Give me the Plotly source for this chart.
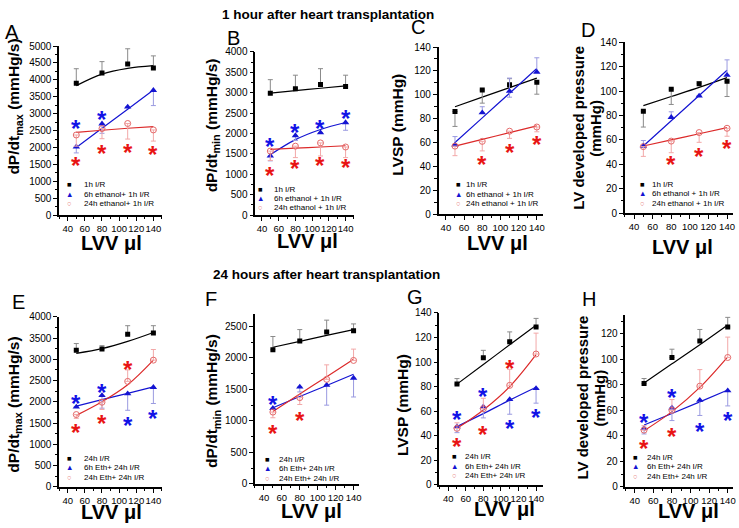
import plotly.graph_objects as go

W, H = 739, 528
FONT = "Liberation Sans, Arial, Helvetica, sans-serif"

lvv = [50, 80, 110, 140]

# ---------------- Panel A : dP/dt max, 1 h ----------------
A_ctrl = [3900, 4200, 4470, 4350]
A_ctrl_up = [430, 340, 450, 360]
A_ctrl_dn = [0, 0, 0, 0]
A_ctrl_fit = [3830, 4170, 4340, 4420]
A_6h = [2020, 2700, 3200, 3690]
A_6h_up = [0, 0, 0, 0]
A_6h_dn = [180, 280, 0, 450]
A_6h_fit = [2000, 2570, 3130, 3700]
A_24h = [2370, 2560, 2710, 2520]
A_24h_up = [0, 0, 0, 0]
A_24h_dn = [330, 300, 460, 330]
A_24h_fit = [2450, 2510, 2570, 2620]
A_star6_x = [50, 80]
A_star6_y = [2740, 3020]
A_star24_x = [50, 80, 110, 140]
A_star24_y = [1660, 1990, 2020, 1970]

# ---------------- Panel B : dP/dt min, 1 h ----------------
B_ctrl = [2990, 3100, 3200, 3150]
B_ctrl_up = [330, 330, 390, 280]
B_ctrl_dn = [0, 0, 0, 0]
B_ctrl_fit = [2990, 3050, 3110, 3170]
B_6h = [1450, 1950, 2020, 2270]
B_6h_up = [0, 0, 0, 0]
B_6h_dn = [120, 120, 0, 190]
B_6h_fit = [1480, 1850, 2100, 2270]
B_24h = [1570, 1690, 1770, 1670]
B_24h_up = [0, 0, 0, 0]
B_24h_dn = [230, 280, 320, 260]
B_24h_fit = [1610, 1640, 1670, 1700]
B_star6_x = [50, 80, 110, 140]
B_star6_y = [1840, 2170, 2280, 2510]
B_star24_x = [50, 80, 110, 140]
B_star24_y = [1130, 1280, 1360, 1310]

# ---------------- Panel C : LVSP, 1 h ----------------
C_ctrl = [86, 104, 108.5, 110.5]
C_ctrl_up = [0, 0, 5, 0]
C_ctrl_dn = [12.5, 11, 0, 10]
C_ctrl_fit = [90, 98, 106, 114]
C_6h = [58, 85, 103, 119]
C_6h_up = [7, 5, 11, 12]
C_6h_dn = [0, 0, 5, 0]
C_6h_fit = [60, 80.7, 101.3, 122]
C_24h = [57, 61, 69.5, 73]
C_24h_up = [0, 0, 0, 0]
C_24h_dn = [8, 8, 6, 4]
C_24h_fit = [57, 62.7, 68.3, 74]
C_star6_x = []
C_star6_y = []
C_star24_x = [80, 110, 140]
C_star24_y = [47, 56.5, 63]

# ---------------- Panel D : LV developed pressure, 1 h ----------------
D_ctrl = [83.5, 101.5, 106, 108]
D_ctrl_up = [0, 0, 1.5, 0]
D_ctrl_dn = [13, 12.5, 0, 12.5]
D_ctrl_fit = [88, 95.5, 103, 111]
D_6h = [55, 78.5, 96, 113]
D_6h_up = [4.5, 4.5, 0, 12.5]
D_6h_dn = [0, 0, 0, 0]
D_6h_fit = [55, 75.7, 96.3, 117]
D_24h = [54.5, 59, 66, 69.5]
D_24h_up = [0, 0, 0, 0]
D_24h_dn = [8, 9.5, 8, 6.5]
D_24h_fit = [55, 60, 65, 70]
D_star6_x = []
D_star6_y = []
D_star24_x = [80, 110, 140]
D_star24_y = [45, 51, 58]

# ---------------- Panel E : dP/dt max, 24 h ----------------
E_ctrl = [3210, 3240, 3590, 3620]
E_ctrl_up = [160, 80, 200, 170]
E_ctrl_dn = [0, 0, 0, 0]
E_ctrl_fit = [3140, 3250, 3420, 3630]
E_6h = [1880, 2150, 2190, 2340]
E_6h_up = [0, 0, 0, 0]
E_6h_dn = [0, 300, 390, 380]
E_6h_fit = [1900, 2050, 2200, 2350]
E_24h = [1700, 1990, 2480, 2980]
E_24h_up = [0, 0, 270, 250]
E_24h_dn = [90, 170, 0, 0]
E_24h_fit = [1680, 2000, 2400, 2980]
E_star6_x = [50, 80, 110, 140]
E_star6_y = [2100, 2370, 1590, 1760]
E_star24_x = [50, 80, 110]
E_star24_y = [1410, 1620, 2900]

# ---------------- Panel F : dP/dt min, 24 h ----------------
F_ctrl = [2130, 2270, 2410, 2430]
F_ctrl_up = [210, 180, 190, 110]
F_ctrl_dn = [0, 0, 0, 0]
F_ctrl_fit = [2170, 2263, 2357, 2450]
F_6h = [1200, 1540, 1570, 1680]
F_6h_up = [0, 0, 0, 0]
F_6h_dn = [0, 80, 320, 300]
F_6h_fit = [1210, 1387, 1563, 1740]
F_24h = [1140, 1370, 1660, 1960]
F_24h_up = [0, 0, 230, 180]
F_24h_dn = [90, 110, 0, 0]
F_24h_fit = [1150, 1427, 1703, 1980]
F_star6_x = [50]
F_star6_y = [1350]
F_star24_x = [50, 80]
F_star24_y = [890, 1100]

# ---------------- Panel G : LVSP, 24 h ----------------
G_ctrl = [82, 103.5, 116.5, 128.5]
G_ctrl_up = [4.5, 6, 8, 7]
G_ctrl_dn = [0, 0, 0, 0]
G_ctrl_fit = [82, 98, 114, 130]
G_6h = [47.5, 63.5, 69.5, 78.5]
G_6h_up = [0, 0, 0, 0]
G_6h_dn = [5, 9, 12, 12]
G_6h_fit = [47.5, 58, 69, 79.5]
G_24h = [46, 62, 81, 106.5]
G_24h_up = [4.5, 8.5, 13, 17]
G_24h_dn = [0, 0, 0, 0]
G_24h_fit = [46, 61, 80, 106]
G_star6_x = [50, 80, 110, 140]
G_star6_y = [58, 76.5, 50.5, 60]
G_star24_x = [50, 80, 110]
G_star24_y = [36, 45.5, 99.5]

# ---------------- Panel H : LV developed pressure, 24 h ----------------
H_ctrl = [81, 101.5, 114.5, 125.5]
H_ctrl_up = [4, 6.5, 9, 7.5]
H_ctrl_dn = [0, 0, 0, 0]
H_ctrl_fit = [81.5, 96.5, 111.5, 127]
H_6h = [46, 62, 68, 75.5]
H_6h_up = [0, 0, 0, 0]
H_6h_dn = [4.5, 10, 12, 12]
H_6h_fit = [48.5, 57.5, 66.7, 76]
H_24h = [44.5, 60, 79, 101.5]
H_24h_up = [3.5, 8.5, 13, 16]
H_24h_dn = [0, 0, 0, 0]
H_24h_fit = [44, 59, 78, 102]
H_star6_x = [50, 80, 110, 140]
H_star6_y = [55.5, 74.5, 48.5, 56.5]
H_star24_x = [50, 80]
H_star24_y = [35, 44.5]

legend_A = ["1h I/R", "6h ethanol+ 1h I/R", "24h ethanol+ 1h I/R"]
legend_BCD = ["1h I/R", "6h ethanol + 1h I/R", "24h ethanol + 1h I/R"]
legend_EFGH = ["24h I/R", "6h Eth+ 24h I/R", "24h Eth+ 24h I/R"]

ylab_max = "dP/dt<sub>max</sub> (mmHg/s)"
ylab_min = "dP/dt<sub>min</sub> (mmHg/s)"
ylab_lvsp = "LVSP (mmHg)"
ylab_lvdp = ["LV developed pressure", "(mmHg)"]

BLACK = "#000000"
BLUE = "#1414d2"
RED = "#dc2a2a"
RED_MK = "#e46a6a"
ERR_K = "#8a8a8a"
ERR_B = "#9a9ae0"
ERR_R = "#f2a8a8"
STAR_B = "#1212e6"
STAR_R = "#e81414"

# layout (pixel geometry)
panels = [
    dict(k="A", d=(A_ctrl, A_ctrl_up, A_ctrl_dn, A_ctrl_fit, A_6h, A_6h_up, A_6h_dn, A_6h_fit,
                   A_24h, A_24h_up, A_24h_dn, A_24h_fit),
         s=(A_star6_x, A_star6_y, A_star24_x, A_star24_y),
         xr=[30, 150], xpx=(59.4, 162.6), yr=[0, 5000], ypx=(41, 214), dt=500, mdt=250,
         leg=legend_A, legpos=(70, 82, [183, 192.5, 202]),
         ylab=ylab_max, ylpos=(15, 103), xlpos=(112, 243), letter=(12, 27)),
    dict(k="B", d=(B_ctrl, B_ctrl_up, B_ctrl_dn, B_ctrl_fit, B_6h, B_6h_up, B_6h_dn, B_6h_fit,
                   B_24h, B_24h_up, B_24h_dn, B_24h_fit),
         s=(B_star6_x, B_star6_y, B_star24_x, B_star24_y),
         xr=[32, 150], xpx=(256.3, 355.4), yr=[0, 4000], ypx=(47, 214), dt=500, mdt=250,
         leg=legend_BCD, legpos=(262, 273, [188, 197, 206]),
         ylab=ylab_min, ylpos=(213, 122), xlpos=(309, 240), letter=(234, 33)),
    dict(k="C", d=(C_ctrl, C_ctrl_up, C_ctrl_dn, C_ctrl_fit, C_6h, C_6h_up, C_6h_dn, C_6h_fit,
                   C_24h, C_24h_up, C_24h_dn, C_24h_fit),
         s=(C_star6_x, C_star6_y, C_star24_x, C_star24_y),
         xr=[32, 147], xpx=(440.4, 545.4), yr=[0, 140], ypx=(42, 213), dt=20, mdt=10,
         leg=legend_BCD, legpos=(460, 466, [183, 193, 202]),
         ylab=ylab_lvsp, ylpos=(399, 121), xlpos=(500, 243), letter=(420, 22)),
    dict(k="D", d=(D_ctrl, D_ctrl_up, D_ctrl_dn, D_ctrl_fit, D_6h, D_6h_up, D_6h_dn, D_6h_fit,
                   D_24h, D_24h_up, D_24h_dn, D_24h_fit),
         s=(D_star6_x, D_star6_y, D_star24_x, D_star24_y),
         xr=[30, 146], xpx=(627.3, 735.6), yr=[0, 140], ypx=(37, 212), dt=20, mdt=10,
         leg=legend_BCD, legpos=(645, 653, [183, 192, 202]),
         ylab=ylab_lvdp, ylpos=((581, 598), 125), xlpos=(685, 247), letter=(590, 25)),
    dict(k="E", d=(E_ctrl, E_ctrl_up, E_ctrl_dn, E_ctrl_fit, E_6h, E_6h_up, E_6h_dn, E_6h_fit,
                   E_24h, E_24h_up, E_24h_dn, E_24h_fit),
         s=(E_star6_x, E_star6_y, E_star24_x, E_star24_y),
         xr=[30, 150], xpx=(59.4, 162.6), yr=[0, 4000], ypx=(318, 492), dt=500, mdt=250,
         leg=legend_EFGH, legpos=(70, 82, [463, 472.5, 482]),
         ylab=ylab_max, ylpos=(15, 408), xlpos=(112, 518), letter=(19, 303)),
    dict(k="F", d=(F_ctrl, F_ctrl_up, F_ctrl_dn, F_ctrl_fit, F_6h, F_6h_up, F_6h_dn, F_6h_fit,
                   F_24h, F_24h_up, F_24h_dn, F_24h_fit),
         s=(F_star6_x, F_star6_y, F_star24_x, F_star24_y),
         xr=[30, 146], xpx=(256, 360.4), yr=[0, 2700], ypx=(315, 489), dt=500, mdt=250,
         leg=legend_EFGH, legpos=(269, 278, [464, 473.5, 483]),
         ylab=ylab_min, ylpos=(214, 404), xlpos=(313, 517), letter=(212, 300)),
    dict(k="G", d=(G_ctrl, G_ctrl_up, G_ctrl_dn, G_ctrl_fit, G_6h, G_6h_up, G_6h_dn, G_6h_fit,
                   G_24h, G_24h_up, G_24h_dn, G_24h_fit),
         s=(G_star6_x, G_star6_y, G_star24_x, G_star24_y),
         xr=[30, 148], xpx=(441.2, 545.3), yr=[0, 140], ypx=(314, 490), dt=20, mdt=10,
         leg=legend_EFGH, legpos=(456, 465, [461, 471, 480.5]),
         ylab=ylab_lvsp, ylpos=(404, 408), xlpos=(507, 515), letter=(417, 298)),
    dict(k="H", d=(H_ctrl, H_ctrl_up, H_ctrl_dn, H_ctrl_fit, H_6h, H_6h_up, H_6h_dn, H_6h_fit,
                   H_24h, H_24h_up, H_24h_dn, H_24h_fit),
         s=(H_star6_x, H_star6_y, H_star24_x, H_star24_y),
         xr=[30, 146], xpx=(628, 736.3), yr=[0, 135], ypx=(316, 492), dt=20, mdt=10,
         leg=legend_EFGH, legpos=(638, 648, [462, 471.5, 481]),
         ylab=ylab_lvdp, ylpos=((585, 602), 401), xlpos=(691, 517), letter=(591, 300)),
]


def px(x, y):
    return x / W, 1 - y / H


fig = go.Figure()
annotations = []
layout_axes = {}

for i, p in enumerate(panels, start=1):
    xa = "x" if i == 1 else f"x{i}"
    ya = "y" if i == 1 else f"y{i}"
    (c, cu, cd, cf, b, bu, bd, bf, r, ru, rd, rf) = p["d"]
    # fit lines
    for fit, col in ((cf, BLACK), (bf, BLUE), (rf, RED)):
        fig.add_trace(go.Scatter(x=lvv, y=fit, mode="lines", xaxis=xa, yaxis=ya,
                                 line=dict(color=col, width=1.2, shape="spline", smoothing=1.0),
                                 showlegend=False, hoverinfo="skip"))
    # data points with error bars
    series = [
        (c, cu, cd, dict(symbol="square", size=5, color=BLACK), ERR_K),
        (b, bu, bd, dict(symbol="triangle-up", size=6.5, color=BLUE), ERR_B),
        (r, ru, rd, dict(symbol="circle-open", size=6, color=RED_MK, line=dict(width=1, color=RED_MK)), ERR_R),
    ]
    for y, up, dn, mk, ec in series:
        fig.add_trace(go.Scatter(x=lvv, y=y, mode="markers", xaxis=xa, yaxis=ya, marker=mk,
                                 error_y=dict(type="data", symmetric=False, array=up, arrayminus=dn,
                                              color=ec, thickness=1, width=2.5),
                                 showlegend=False))
    # significance stars
    s6x, s6y, s24x, s24y = p["s"]
    for sx, sy, col in ((s6x, s6y, STAR_B), (s24x, s24y, STAR_R)):
        for xv, yv in zip(sx, sy):
            annotations.append(dict(x=xv, y=yv, xref=xa, yref=ya, text="<b>*</b>", showarrow=False,
                                    font=dict(family=FONT, size=24, color=col), yshift=-6))

    x0, x1 = p["xpx"]
    y0, y1 = p["ypx"]
    layout_axes["xaxis" if i == 1 else f"xaxis{i}"] = dict(
        domain=[x0 / W, x1 / W], anchor=ya, range=p["xr"], tick0=40, dtick=20, tickangle=0,
        showline=True, linecolor="black", linewidth=1.5, ticks="outside", ticklen=4, tickwidth=1.2,
        tickcolor="black", showgrid=False, zeroline=False,
        tickfont=dict(family=FONT, size=9.5, color="black"),
        minor=dict(ticks="outside", ticklen=2.5, tickwidth=1, tick0=30, dtick=10, tickcolor="black"))
    layout_axes["yaxis" if i == 1 else f"yaxis{i}"] = dict(
        domain=[1 - y1 / H, 1 - y0 / H], anchor=xa, range=p["yr"], tick0=0, dtick=p["dt"],
        showline=True, linecolor="black", linewidth=1.5, ticks="outside", ticklen=4, tickwidth=1.2,
        tickcolor="black", showgrid=False, zeroline=False,
        tickfont=dict(family=FONT, size=10, color="black"),
        minor=dict(ticks="outside", ticklen=2.5, tickwidth=1, tick0=0, dtick=p["mdt"], tickcolor="black"))

    # legend (drawn as text)
    sx_, tx_, rows = p["legpos"]
    syms = [("■", BLACK), ("▲", BLUE), ("○", RED_MK)]
    for (sym, scol), label, ry in zip(syms, p["leg"], rows):
        ax_, ay_ = px(sx_, ry)
        annotations.append(dict(x=ax_, y=ay_, xref="paper", yref="paper", text=sym, showarrow=False,
                                xanchor="center", yanchor="middle",
                                font=dict(family=FONT, size=7.5, color=scol)))
        ax_, ay_ = px(tx_, ry)
        annotations.append(dict(x=ax_, y=ay_, xref="paper", yref="paper", text=label, showarrow=False,
                                xanchor="left", yanchor="middle",
                                font=dict(family=FONT, size=8, color="black")))

    # y title
    ylx, yly = p["ylpos"]
    if isinstance(p["ylab"], list):
        for txt, lx in zip(p["ylab"], ylx):
            ax_, ay_ = px(lx, yly)
            annotations.append(dict(x=ax_, y=ay_, xref="paper", yref="paper", text=f"<b>{txt}</b>",
                                    showarrow=False, textangle=-90, xanchor="center", yanchor="middle",
                                    font=dict(family=FONT, size=15, color="black")))
    else:
        ax_, ay_ = px(ylx, yly)
        annotations.append(dict(x=ax_, y=ay_, xref="paper", yref="paper", text=f"<b>{p['ylab']}</b>",
                                showarrow=False, textangle=-90, xanchor="center", yanchor="middle",
                                font=dict(family=FONT, size=15.5, color="black")))
    # x title
    ax_, ay_ = px(*p["xlpos"])
    annotations.append(dict(x=ax_, y=ay_, xref="paper", yref="paper", text="<b>LVV μl</b>",
                            showarrow=False, xanchor="center", yanchor="middle",
                            font=dict(family=FONT, size=20, color="black")))
    # panel letter
    ax_, ay_ = px(*p["letter"])
    annotations.append(dict(x=ax_, y=ay_, xref="paper", yref="paper", text=p["k"],
                            showarrow=False, xanchor="center", yanchor="middle",
                            font=dict(family=FONT, size=20, color="black")))

# section titles
for txt, (tx, ty) in (("1 hour after heart transplantation", (329, 9)),
                      ("24 hours after heart transplantation", (328, 275))):
    ax_, ay_ = px(tx, ty)
    annotations.append(dict(x=ax_, y=ay_, xref="paper", yref="paper", text=f"<b>{txt}</b>",
                            showarrow=False, xanchor="center", yanchor="middle",
                            font=dict(family=FONT, size=13.5, color="black")))

fig.update_layout(width=W, height=H, margin=dict(l=0, r=0, t=0, b=0),
                  paper_bgcolor="white", plot_bgcolor="white", showlegend=False,
                  annotations=annotations, **layout_axes)

fig.write_html("out.html", config={"displayModeBar": False},
               post_script="document.body.style.margin='0';document.body.style.padding='0';")
